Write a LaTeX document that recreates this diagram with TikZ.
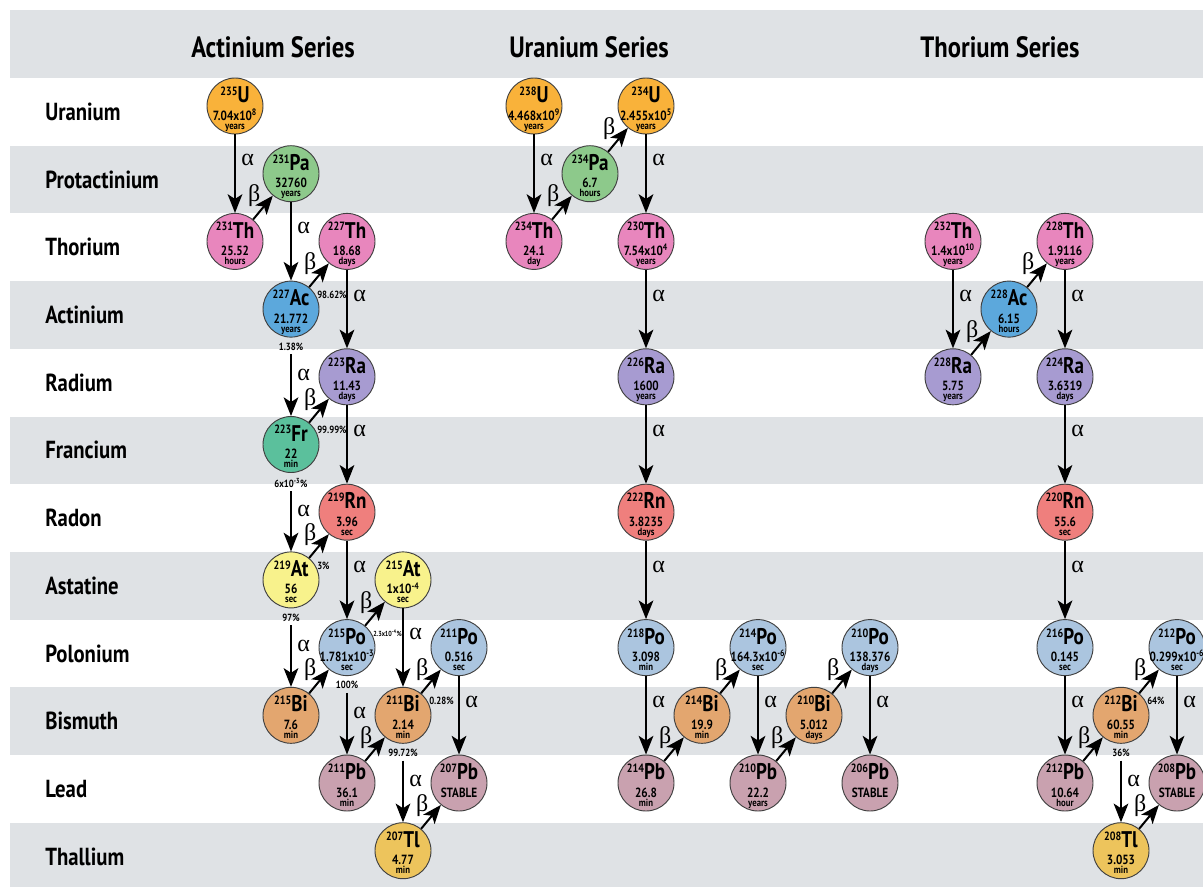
\documentclass[tikz,border=0pt]{standalone}
\usepackage{fontspec}
\setmainfont{PT Sans}[FakeStretch=0.84]
\newfontfamily\greek{Liberation Serif}
\usetikzlibrary{arrows.meta}

\definecolor{band}{HTML}{DFE2E5}
\definecolor{cU}{HTML}{F9B23A}
\definecolor{cPa}{HTML}{8DC98B}
\definecolor{cTh}{HTML}{E886BD}
\definecolor{cAc}{HTML}{5CA8DC}
\definecolor{cRa}{HTML}{A79BD1}
\definecolor{cFr}{HTML}{5BC09C}
\definecolor{cRn}{HTML}{EF7F7D}
\definecolor{cAt}{HTML}{F8F28C}
\definecolor{cPo}{HTML}{ABC5DF}
\definecolor{cBi}{HTML}{E3A66F}
\definecolor{cPb}{HTML}{C9A1AF}
\definecolor{cTl}{HTML}{EDC45C}

\tikzset{
  iso/.style={circle, draw=black!75, line width=0.7pt, minimum size=42pt, inner sep=0pt},
  sym/.style={anchor=base, inner sep=0pt, font=\bfseries\fontsize{17}{17}\selectfont},
  hl/.style={anchor=base, inner sep=0pt, font=\bfseries\fontsize{10}{10}\selectfont},
  un/.style={anchor=base, inner sep=0pt, font=\bfseries\fontsize{7.8}{8}\selectfont},
  decay/.style={line width=1.5pt, -{Stealth[length=14pt,width=11pt,inset=3.5pt]}},
  alf/.style={right, pos=0.33, inner sep=4pt, font=\greek\fontsize{18}{18}\selectfont},
  bet/.style={above left, pos=0.45, inner sep=0.5pt, font=\greek\fontsize{18}{18}\selectfont},
  pct/.style={inner sep=1pt, font=\bfseries\fontsize{7.8}{8}\selectfont},
  title/.style={font=\bfseries\fontsize{22}{24}\selectfont},
  elem/.style={anchor=west, inner sep=0pt, font=\bfseries\fontsize{18.5}{20}\selectfont}
}

\begin{document}
\begin{tikzpicture}[x=0.75pt,y=-0.75pt]
\useasboundingbox (0,0) rectangle (1203,886);
\fill[band] (10,10) rectangle (1203,78);
\foreach \row in {1,3,5,7,9,11} % edit here for the grey rows
\fill[band] (10,{78+67.7*\row}) rectangle (1203,{78+67.7*(\row+1)});
\node[title] (tA) at (273,47) {Actinium Series};
\node[title] (tU) at (589,47) {Uranium Series};
\node[title] (tT) at (1000,47) {Thorium Series};
\foreach \row/\el in {0/Uranium,1/Protactinium,2/Thorium,3/Actinium,4/Radium,5/Francium,
  6/Radon,7/Astatine,8/Polonium,9/Bismuth,10/Lead,11/Thallium} % edit here for the element names
\node[elem] (e\row) at (45,{111.85+67.7*\row}) {\el};
% nuclides: name/x/row/colour/mass/symbol/half-life/unit
\foreach \nm/\x/\row/\col/\ms/\sy/\hl/\un in {
  U235/235/0/cU/235/U/7.04x10\textsuperscript{8}/years,
  Pa231/291/1/cPa/231/Pa/32760/years,
  Th231/235/2/cTh/231/Th/25.52/hours,
  Th227/347/2/cTh/227/Th/18.68/days,
  Ac227/291/3/cAc/227/Ac/21.772/years,
  Ra223/347/4/cRa/223/Ra/11.43/days,
  Fr223/291/5/cFr/223/Fr/22/min,
  Rn219/347/6/cRn/219/Rn/3.96/sec,
  At219/291/7/cAt/219/At/56/sec,
  At215/403/7/cAt/215/At/1x10\textsuperscript{-4}/sec,
  Po215/347/8/cPo/215/Po/1.781x10\textsuperscript{-3}/sec,
  Po211/459/8/cPo/211/Po/0.516/sec,
  Bi215/291/9/cBi/215/Bi/7.6/min,
  Bi211/403/9/cBi/211/Bi/2.14/min,
  Pb211/347/10/cPb/211/Pb/36.1/min,
  Pb207/459/10/cPb/207/Pb/STABLE/{},
  Tl207/403/11/cTl/207/Tl/4.77/min,
  U238/534/0/cU/238/U/4.468x10\textsuperscript{9}/years,
  Pa234/590/1/cPa/234/Pa/6.7/hours,
  U234/646/0/cU/234/U/2.455x10\textsuperscript{5}/years,
  Th234/534/2/cTh/234/Th/24.1/day,
  Th230/646/2/cTh/230/Th/7.54x10\textsuperscript{4}/years,
  Ra226/646/4/cRa/226/Ra/1600/years,
  Rn222/646/6/cRn/222/Rn/3.8235/days,
  Po218/646/8/cPo/218/Po/3.098/min,
  Pb214/646/10/cPb/214/Pb/26.8/min,
  Bi214/702/9/cBi/214/Bi/19.9/min,
  Po214/758/8/cPo/214/Po/164.3x10\textsuperscript{-6}/sec,
  Pb210/758/10/cPb/210/Pb/22.2/years,
  Bi210/814/9/cBi/210/Bi/5.012/days,
  Po210/870/8/cPo/210/Po/138.376/days,
  Pb206/870/10/cPb/206/Pb/STABLE/{},
  Th232/953/2/cTh/232/Th/1.4x10\textsuperscript{10}/years,
  Ra228/953/4/cRa/228/Ra/5.75/years,
  Ac228/1009/3/cAc/228/Ac/6.15/hours,
  Th228/1065/2/cTh/228/Th/1.9116/years,
  Ra224/1065/4/cRa/224/Ra/3.6319/days,
  Rn220/1065/6/cRn/220/Rn/55.6/sec,
  Po216/1065/8/cPo/216/Po/0.145/sec,
  Pb212/1065/10/cPb/212/Pb/10.64/hour,
  Bi212/1121/9/cBi/212/Bi/60.55/min,
  Po212/1177/8/cPo/212/Po/0.299x10\textsuperscript{-6}/sec,
  Pb208/1177/10/cPb/208/Pb/STABLE/{},
  Tl208/1121/11/cTl/208/Tl/3.053/min}
{
\node[iso, fill=\col] (\nm) at (\x,{106+67.7*\row}) {};
\node[sym] (\nm-s) at ([yshift=2.5pt]\nm.center) {\raisebox{5.4pt}{\fontsize{9}{9}\selectfont\ms}\sy};
\node[hl] (\nm-h) at ([yshift=-10.5pt]\nm.center) {\hl};
\node[un] (\nm-u) at ([yshift=-17.3pt]\nm.center) {\un};
}
% branching ratios below the circle
\foreach \nm/\pc in {Ac227/1.38\%, Fr223/6x10\textsuperscript{-3}\%, At219/97\%,
  Po215/100\%, Bi211/99.72\%, Bi212/36\%} % edit here for the lower branches
\node[pct, below=1pt, outer sep=2pt] (p\nm) at (\nm.south) {\pc};
% branching ratios beside the beta arrow
\foreach \nm/\pc in {Ac227/98.62\%, Fr223/99.99\%, At219/3\%, Bi211/0.28\%, Bi212/64\%}
\node[pct, anchor=west] (q\nm) at (\nm.30) {\pc};
\node[pct, anchor=west, font=\bfseries\fontsize{5.5}{6}\selectfont] (qPo215) at (Po215.30) {2.3x10\textsuperscript{-4}\%};
% alpha decays
\foreach \a/\b in {U235/Th231, Pa231/Ac227, Th227/Ra223, Ra223/Rn219, Rn219/Po215,
  At215/Bi211, Po211/Pb207, U238/Th234, U234/Th230, Th230/Ra226, Ra226/Rn222,
  Rn222/Po218, Po218/Pb214, Po214/Pb210, Po210/Pb206, Th232/Ra228, Th228/Ra224,
  Ra224/Rn220, Rn220/Po216, Po216/Pb212, Po212/Pb208,
  pAc227/Fr223, pFr223/At219, pAt219/Bi215, pPo215/Pb211, pBi211/Tl207, pBi212/Tl208}
\draw[decay] (\a) -- node[alf] (a\a) {α} (\b);
% beta decays
\foreach \a/\b in {Th231/Pa231, Ac227/Th227, Fr223/Ra223, At219/Rn219, Po215/At215,
  Bi215/Po215, Pb211/Bi211, Bi211/Po211, Tl207/Pb207, Th234/Pa234, Pa234/U234,
  Pb214/Bi214, Bi214/Po214, Pb210/Bi210, Bi210/Po210, Ra228/Ac228, Ac228/Th228,
  Pb212/Bi212, Bi212/Po212, Tl208/Pb208}
\draw[decay] (\a) -- node[bet] (b\a) {β} (\b);
\end{tikzpicture}
\end{document}
